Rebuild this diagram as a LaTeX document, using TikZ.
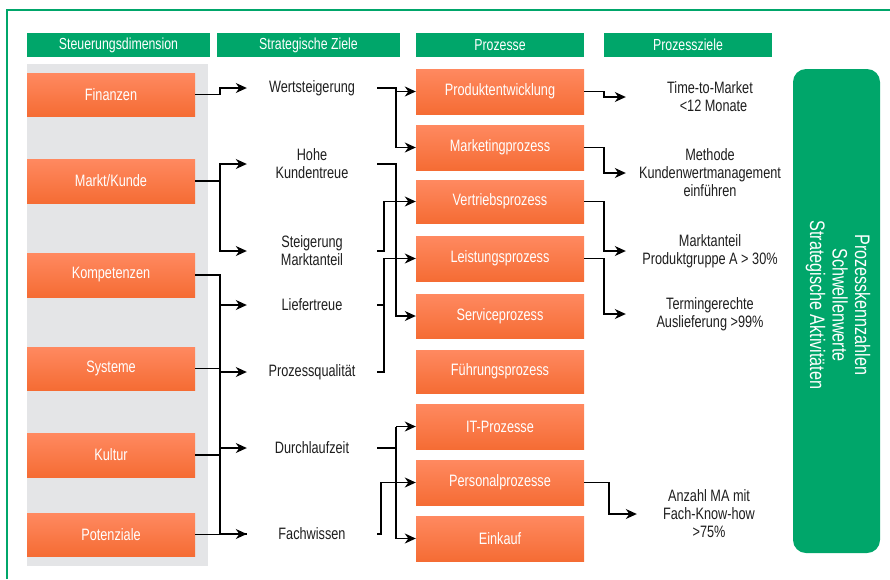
\documentclass[tikz,border=0pt]{standalone}
\usepackage{fontspec}
\setmainfont[FakeStretch=0.77]{Liberation Sans}
\usetikzlibrary{arrows.meta,calc}
\definecolor{grn}{RGB}{0,166,106}
\definecolor{bggray}{RGB}{228,229,231}
\definecolor{orTop}{RGB}{255,137,96}
\definecolor{orBot}{RGB}{245,108,52}
\definecolor{txt}{RGB}{30,30,30}
\begin{document}
\begin{tikzpicture}[x=1pt,y=-1pt,
  hdr/.style={fill=grn,text=white,minimum height=24,inner sep=0,font=\fontsize{16}{18}\selectfont},
  obox/.style={top color=orTop,bottom color=orBot,draw=none,text=white,minimum width=168,inner sep=0,font=\fontsize{16.5}{18}\selectfont},
  stext/.style={text=txt,align=center,minimum width=130,inner sep=0,font=\fontsize{16.5}{18}\selectfont},
  ptext/.style={text=txt,align=center,minimum width=168,inner sep=0,font=\fontsize{16.5}{18}\selectfont},
  conn/.style={draw=black,line width=1.2pt},
  arr/.style={conn,-{Stealth[length=11pt,width=10pt,inset=3.5pt]}}
]
\useasboundingbox (0,0) rectangle (890,579);
% frame
\draw[grn,line width=1.5pt] (7,579) -- (7,10) -- (890,10);
% gray background
\fill[bggray] (27,64) rectangle (208,566);
% headers
\node[hdr,minimum width=183] (h1) at (118.5,45) {Steuerungsdimension};
\node[hdr,minimum width=183] (h2) at (308.5,45) {Strategische Ziele};
\node[hdr,minimum width=168] (h3) at (500,45) {Prozesse};
\node[hdr,minimum width=168] (h4) at (688,45) {Prozessziele};
% left boxes
\node[obox,minimum height=43] (fin) at (111,94.5) {Finanzen};
\node[obox,minimum height=44] (mk) at (111,181) {Markt/Kunde};
\node[obox,minimum height=44] (komp) at (111,275) {Kompetenzen};
\node[obox,minimum height=43] (sys) at (111,368.5) {Systeme};
\node[obox,minimum height=44] (kult) at (111,455) {Kultur};
\node[obox,minimum height=43] (pot) at (111,534.5) {Potenziale};
% strategic goals
\node[stext] (wert) at (312,88) {Wertsteigerung};
\node[stext] (hohe) at (312,164) {Hohe\\Kundentreue};
\node[stext] (steig) at (312,251) {Steigerung\\Marktanteil};
\node[stext] (lief) at (312,305) {Liefertreue};
\node[stext] (pq) at (312,372) {Prozessqualität};
\node[stext] (durch) at (312,448) {Durchlaufzeit};
\node[stext] (fach) at (312,534) {Fachwissen};
% processes
\node[obox,minimum height=45] (prod) at (500,91.5) {Produktentwicklung};
\node[obox,minimum height=45] (mark) at (500,147.5) {Marketingprozess};
\node[obox,minimum height=43] (vert) at (500,201.5) {Vertriebsprozess};
\node[obox,minimum height=45] (leist) at (500,258.5) {Leistungsprozess};
\node[obox,minimum height=44] (serv) at (500,316) {Serviceprozess};
\node[obox,minimum height=43] (fuehr) at (500,371.5) {Führungsprozess};
\node[obox,minimum height=45] (itp) at (500,426.5) {IT-Prozesse};
\node[obox,minimum height=45] (pers) at (500,482.5) {Personalprozesse};
\node[obox,minimum height=45] (eink) at (500,538.5) {Einkauf};
% process goals
\node[ptext] (ttm) at (710,97) {Time-to-Market\\\ \ {<}12 Monate};
\node[ptext] (meth) at (710,173) {Methode\\Kundenwertmanagement\\einführen};
\node[ptext] (manteil) at (710,251) {Marktanteil\\Produktgruppe A {>} 30\%};
\node[ptext] (termin) at (710,314) {Termingerechte\\Auslieferung {>}99\%};
\node[ptext,minimum width=144] (anz) at (709,514) {Anzahl MA mit\\Fach-Know-how\\{>}75\%};
% side box
\node[fill=grn,rounded corners=13pt,minimum width=87,minimum height=484,inner sep=0] (side) at (836.5,311) {};
\node[rotate=-90,align=center,text=white,font=\fontsize{21}{22.5}\selectfont] (sidetxt) at ($(side.center)+(1.5,-6)$) {Prozesskennzahlen\\Schwellenwerte\\Strategische Aktivitäten};
% bus coordinates
\coordinate (a1) at (220,0);
\coordinate (c1) at (396,0);
\coordinate (c2) at (384,0);
\coordinate (c3) at (381,0);
\coordinate (d1) at (604,0);
\coordinate (d2) at (609,0);
% left connectors
\draw[arr] (fin.east) -- (a1|-fin.east) |- (wert.west);
\draw[arr] (mk.east) -- (a1|-mk.east) |- (hohe.west);
\draw[arr] (mk.east) -- (a1|-mk.east) |- (steig.west);
\draw[conn] (komp.east) -- (a1|-komp.east) |- (fach.west);
\draw[arr] (a1|-fach.west) -- (fach.west);
\draw[conn] (sys.east) -- (a1|-sys.east);
\draw[conn] (kult.east) -- (a1|-kult.east);
\draw[conn] (pot.east) -- (a1|-pot.east);
\draw[arr] (a1|-lief.west) -- (lief.west);
\draw[arr] (a1|-pq.west) -- (pq.west);
\draw[arr] (a1|-durch.west) -- (durch.west);
% middle connectors
\draw[conn] (wert.east) -- (c1|-wert.east) -- (c1|-mark.west);
\draw[arr] (c1|-prod.west) -- (prod.west);
\draw[arr] (c1|-mark.west) -- (mark.west);
\draw[arr] (hohe.east) -- (c1|-hohe.east) |- (serv.west);
\draw[arr] (steig.east) -- (c2|-steig.east) |- (vert.west);
\draw[arr] (pq.east) -- (c2|-pq.east) |- (leist.west);
\draw[conn] (lief.east) -- (c2|-lief.east);
\draw[conn] (durch.east) -- (c1|-durch.east);
\draw[arr] (c1|-itp.west) -- (itp.west);
\draw[arr] (c1|-itp.west) |- (eink.west);
\draw[arr] (fach.east) -- (c3|-fach.east) |- (pers.west);
% right connectors
\draw[arr] (prod.east) -- (d1|-prod.east) |- (ttm.west);
\draw[arr] (mark.east) -- (d1|-mark.east) |- (meth.west);
\draw[arr] (vert.east) -- (d1|-vert.east) |- (manteil.west);
\draw[arr] (leist.east) -- (d1|-leist.east) |- (termin.west);
\draw[arr] (pers.east) -- (d2|-pers.east) |- (anz.west);
\end{tikzpicture}
\end{document}
